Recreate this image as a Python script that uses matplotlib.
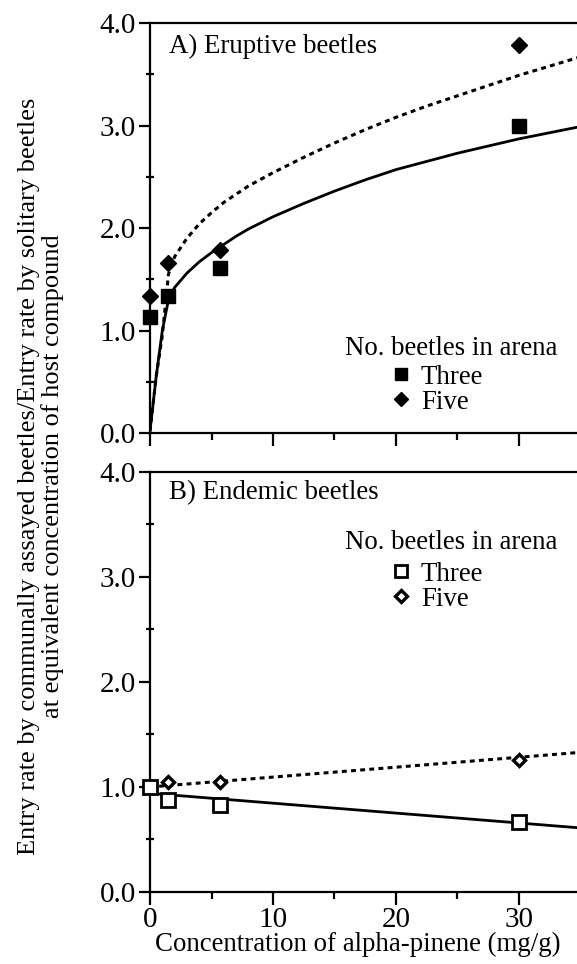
import matplotlib
matplotlib.use("Agg")
import matplotlib.pyplot as plt
from matplotlib.ticker import MultipleLocator

plt.rcParams['font.family'] = ['Liberation Serif', 'DejaVu Serif']

# measured points, concentration of alpha-pinene (mg/g)
conc = [0, 1.5, 5.7, 30]

# A) eruptive beetles
erupt_three = [1.13, 1.34, 1.61, 3.00]
erupt_five = [1.34, 1.66, 1.79, 3.79]
# fitted curves
fit_x = [0, 0.5, 1.0, 1.5, 2, 3, 4, 5, 6, 7, 8, 10, 12.5, 15, 17.5, 20, 22.5, 25, 27.5, 30, 32.5, 35]
fit_three_y = [0.02, 0.55, 1.00, 1.30, 1.42, 1.56, 1.67, 1.76, 1.84, 1.92, 1.99, 2.11, 2.24, 2.36,
               2.47, 2.57, 2.65, 2.73, 2.80, 2.87, 2.93, 2.99]
fit_five_y = [0.02, 0.55, 0.95, 1.55, 1.72, 1.90, 2.04, 2.15, 2.25, 2.33, 2.41, 2.54, 2.69, 2.83,
              2.96, 3.08, 3.19, 3.29, 3.39, 3.49, 3.58, 3.67]

# B) endemic beetles
endem_three = [1.00, 0.88, 0.825, 0.667]
endem_five = [1.00, 1.05, 1.05, 1.26]
lin_x = [0, 35]
lin_three_y = [0.94, 0.61]
lin_five_y = [1.00, 1.33]

fs = 19.4

fig = plt.figure(figsize=(5.77, 9.64), dpi=100)
ax1 = fig.add_axes([0.26, 0.5508, 0.746, 0.4253])
ax2 = fig.add_axes([0.26, 0.0747, 0.746, 0.4357])

for ax in (ax1, ax2):
    ax.set_xlim(0, 35)
    ax.set_ylim(0, 4)
    ax.xaxis.set_major_locator(MultipleLocator(10))
    ax.xaxis.set_minor_locator(MultipleLocator(5))
    ax.yaxis.set_major_locator(MultipleLocator(1))
    ax.yaxis.set_minor_locator(MultipleLocator(0.5))
    ax.yaxis.set_major_formatter(matplotlib.ticker.FormatStrFormatter('%.1f'))
    ax.tick_params(which='major', direction='out', length=8, width=1.6, labelsize=21, pad=2)
    ax.tick_params(axis='x', which='major', length=9)
    ax.tick_params(axis='x', which='minor', direction='out', length=5, width=1.6)
    ax.tick_params(axis='y', which='minor', direction='inout', length=6, width=1.6)
    for s in ax.spines.values():
        s.set_linewidth(1.6)

ax1.tick_params(axis='x', labelbottom=False)

# top panel
ax1.plot(fit_x, fit_three_y, color='black', lw=2)
ax1.plot(fit_x, fit_five_y, color='black', lw=2.2, linestyle=(0, (1.6, 1.4)))
h3, = ax1.plot(conc, erupt_three, 's', color='black', ms=10.5, clip_on=False, zorder=5, label='Three')
h5, = ax1.plot(conc, erupt_five, 'D', color='black', ms=7.8, clip_on=False, zorder=5, label='Five')
ax1.text(0.044, 0.944, 'A) Eruptive beetles', transform=ax1.transAxes, fontsize=fs, va='center', ha='left')
ax1.text(0.453, 0.207, 'No. beetles in arena', transform=ax1.transAxes, fontsize=fs, va='center', ha='left')
ax1.legend(handles=[h3, h5], loc='upper left', bbox_to_anchor=(0.557, 0.167), frameon=False,
           fontsize=fs, handlelength=0.8, handletextpad=0.35, labelspacing=0.0, borderpad=0,
           borderaxespad=0, markerscale=0.85)

# bottom panel
ax2.plot(lin_x, lin_three_y, color='black', lw=2)
ax2.plot(lin_x, lin_five_y, color='black', lw=2.2, linestyle=(0, (1.6, 1.4)))
g5, = ax2.plot(conc, endem_five, 'D', mfc='white', mec='black', mew=2.4, ms=6.5,
               clip_on=False, zorder=4, label='Five')
g3, = ax2.plot(conc, endem_three, 's', mfc='white', mec='black', mew=2, ms=9.5, clip_on=False, zorder=5, label='Three')
ax2.text(0.044, 0.95, 'B) Endemic beetles', transform=ax2.transAxes, fontsize=fs, va='center', ha='left')
ax2.text(0.453, 0.831, 'No. beetles in arena', transform=ax2.transAxes, fontsize=fs, va='center', ha='left')
ax2.legend(handles=[g3, g5], loc='upper left', bbox_to_anchor=(0.557, 0.786), frameon=False,
           fontsize=fs, handlelength=0.8, handletextpad=0.35, labelspacing=0.0, borderpad=0,
           borderaxespad=0, markerscale=0.9)

ax2.set_xlabel('Concentration of alpha-pinene (mg/g)', fontsize=fs)
ax2.xaxis.set_label_coords(0.483, -0.096)

fig.text(0.071, 0.506, 'Entry rate by communally assayed beetles/Entry rate by solitary beetles\n'
         'at equivalent concentration of host compound', rotation=90, ha='center', va='center',
         multialignment='center', fontsize=19, linespacing=1.05)

fig.savefig('out.png', dpi=100)
